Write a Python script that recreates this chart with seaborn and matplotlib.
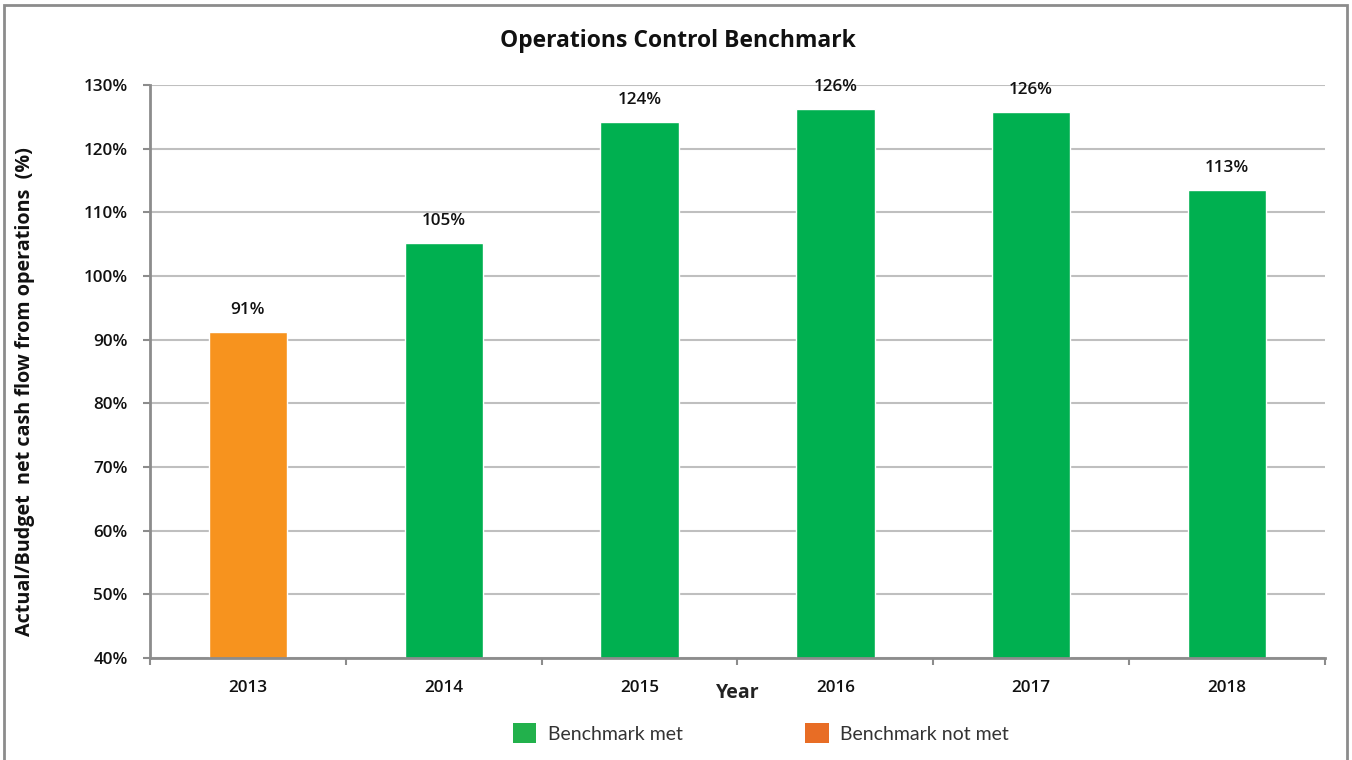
import matplotlib
matplotlib.use("Agg")
import matplotlib.pyplot as plt
from matplotlib.patches import Patch, Rectangle
from matplotlib.ticker import FixedLocator, NullFormatter
import seaborn as sns
import pandas as pd

years = ["2013", "2014", "2015", "2016", "2017", "2018"]
values = [91.2, 105.2, 124.2, 126.3, 125.8, 113.5]
value_labels = ["91%", "105%", "124%", "126%", "126%", "113%"]
status = ["Benchmark not met", "Benchmark met", "Benchmark met", "Benchmark met", "Benchmark met", "Benchmark met"]
y_ticks = [40, 50, 60, 70, 80, 90, 100, 110, 120, 130]

df = pd.DataFrame({"Year": years, "Value": values, "Status": status})

sns.set_theme(style="white")
plt.rcParams["font.family"] = ["Open Sans", "DejaVu Sans"]

bar_colors = {"Benchmark met": "#00B050", "Benchmark not met": "#F7931E"}
legend_colors = {"Benchmark met": "#22B14C", "Benchmark not met": "#E86D25"}

fig = plt.figure(figsize=(13.52, 7.6), dpi=100)
ax = fig.add_axes([150/1352, 1-658/760, 1175/1352, 573/760])

sns.barplot(data=df, x="Year", y="Value", hue="Status", palette=bar_colors,
            dodge=False, width=0.4, legend=False, ax=ax, saturation=1)

tick_font = dict(fontsize=12.3, fontweight="semibold", color="#111111")

ax.set_ylim(40, 130)
ax.set_xlim(-0.5, len(years) - 0.5)
ax.set_yticks(y_ticks)
ax.set_yticklabels([f"{t}%" for t in y_ticks], **tick_font)
ax.yaxis.grid(True, color="#BFBFBF", linewidth=1.5)
ax.set_axisbelow(True)

# x ticks: marks at boundaries, labels at centers
ax.xaxis.set_major_locator(FixedLocator([i - 0.5 for i in range(len(years) + 1)]))
ax.xaxis.set_major_formatter(NullFormatter())
ax.xaxis.set_minor_locator(FixedLocator(list(range(len(years)))))
ax.set_xticklabels(years, minor=True, **tick_font)
ax.tick_params(axis="x", which="major", length=5, width=1.5, color="#8C8C8C", direction="out", bottom=True)
ax.tick_params(axis="x", which="minor", length=0, pad=16)
ax.tick_params(axis="y", length=5, width=1.5, color="#8C8C8C", direction="out", left=True, pad=11)

for side in ["top", "right"]:
    ax.spines[side].set_visible(False)
for side in ["left", "bottom"]:
    ax.spines[side].set_color("#8C8C8C")
    ax.spines[side].set_linewidth(2)

ax.set_ylabel("")
ax.set_xlabel("Year", fontsize=14, fontweight="bold", color="#222222")
ax.xaxis.set_label_coords(0.5, -0.043)

for cont in ax.containers:
    labs = []
    for bar in cont:
        h = bar.get_height()
        if h != h:
            labs.append("")
        else:
            labs.append(value_labels[values.index(h)] if h in values else "")
    ax.bar_label(cont, labels=labs, padding=10, **tick_font)

fig.text(0.5015, 1-41/760, "Operations Control Benchmark", ha="center", va="center",
         fontsize=16.5, fontweight="bold", color="#111111")
fig.text(25/1352, 1-392/760, "Actual/Budget  net cash flow from operations  (%)", rotation=90,
         ha="center", va="center", fontsize=14.2, fontweight="bold", color="#111111")

handles = [Patch(facecolor=legend_colors[k], edgecolor="none", label=k)
           for k in ["Benchmark met", "Benchmark not met"]]
fig.legend(handles=handles, loc="center", bbox_to_anchor=(761/1352, 1-733/760), ncol=2,
           frameon=False, handlelength=1.2, handleheight=1.2,
           handletextpad=0.6, columnspacing=6.3, labelcolor="#333333",
           prop={"family": ["Lato", "DejaVu Sans"], "size": 14})

fig.patches.append(Rectangle((4/1352, -0.05), 1343/1352, 1.05 - 5/760, transform=fig.transFigure,
                             fill=False, edgecolor="#8C8C8C", linewidth=2, figure=fig))

fig.savefig("out.png", dpi=100, facecolor="white")
